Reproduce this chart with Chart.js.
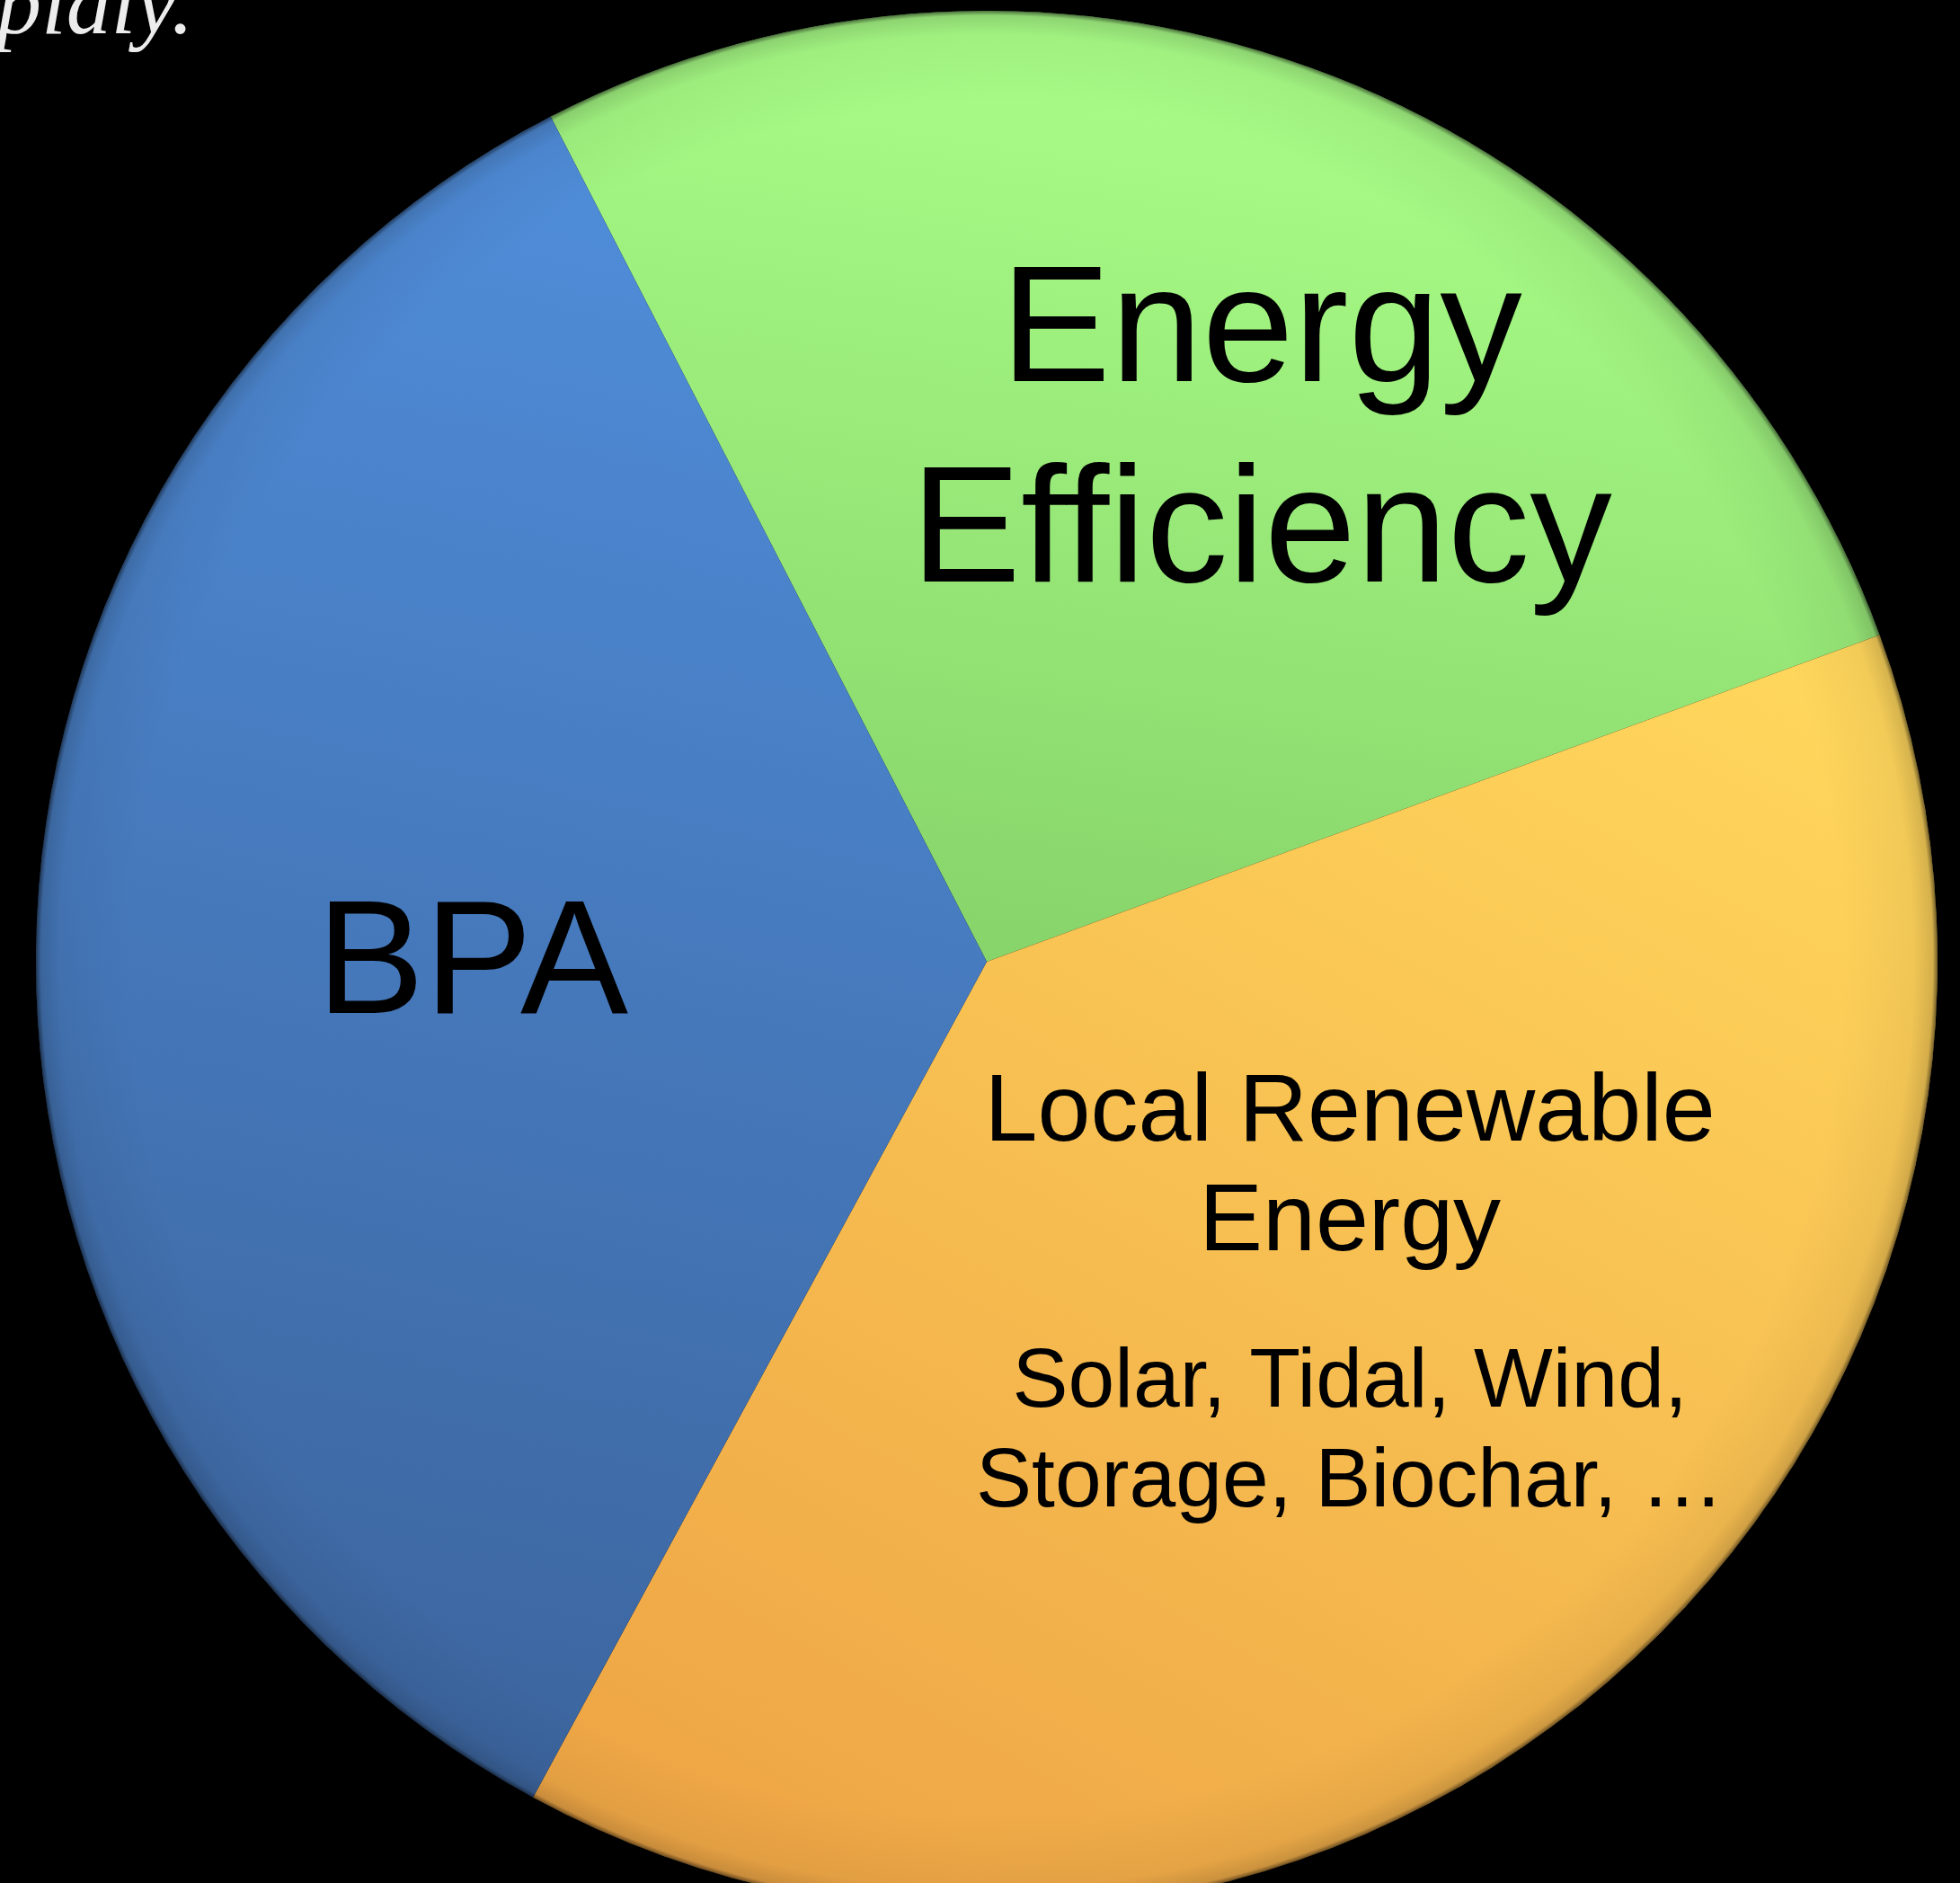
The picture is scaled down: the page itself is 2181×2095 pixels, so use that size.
<!DOCTYPE html>
<html>
<head>
<meta charset="utf-8">
<script src="https://cdn.jsdelivr.net/npm/chart.js@4.4.0/dist/chart.umd.min.js"></script>
<style>
html, body { margin:0; padding:0; background:#000; width:2181px; height:2095px; overflow:hidden; }
#caption { position:absolute; left:-4px; top:-46px; font:italic 100px/100px "Liberation Serif", serif; color:#ececec; white-space:nowrap; }
#wrap { position:absolute; left:40px; top:12px; width:2116px; height:2116px; }
</style>
</head>
<body>
<div id="caption">pidly.</div>
<div id="wrap"><canvas id="pie"></canvas></div>
<script>
// slices, clockwise from the green one
const sliceNames = ['Energy Efficiency', 'Local Renewable Energy', 'BPA'];
const sliceValues = [27, 38.5, 34.5];
const sliceLines = [
    ['Energy', 'Efficiency'],
    ['Local Renewable', 'Energy', 'Solar, Tidal, Wind,', 'Storage, Biochar, …'],
    ['BPA']
];

// label placement, in units of the pie radius from its centre
const labelLayout = [
    { dx: 0.289, base: [-0.611, -0.400], size: [183, 183] },
    { dx: 0.382, base: [0.188, 0.303, 0.468, 0.573], size: [106, 106, 93, 93] },
    { dx: -0.541, base: [0.054], size: [180] }
];

// gradient end points (relative to centre, in radius units) and colours
const sliceShade = [
    { from: [0.15, -1.0], to: [0.0, 0.0], c0: '#aaff88', c1: '#87d46a' },
    { from: [0.65, -0.4], to: [-0.1, 0.98], c0: '#ffd65c', c1: '#efa746' },
    { from: [-0.15, -0.75], to: [-0.5, 0.85], c0: '#4f8cd8', c1: '#3c659e' }
];

function pieGeom(chart) {
    const a = chart.chartArea;
    return {
        x: (a.left + a.right) / 2,
        y: (a.top + a.bottom) / 2,
        r: Math.min(a.right - a.left, a.bottom - a.top) / 2
    };
}

function shade(context) {
    const chart = context.chart;
    if (!chart.chartArea) return '#888';
    const g = pieGeom(chart);
    const s = sliceShade[context.dataIndex];
    const grad = chart.ctx.createLinearGradient(
        g.x + s.from[0] * g.r, g.y + s.from[1] * g.r,
        g.x + s.to[0] * g.r, g.y + s.to[1] * g.r);
    grad.addColorStop(0, s.c0);
    grad.addColorStop(1, s.c1);
    return grad;
}

// darker rim at the edge of the pie
const rimPlugin = {
    id: 'rim',
    afterDatasetsDraw(chart) {
        const arc = chart.getDatasetMeta(0).data[0];
        if (!arc) return;
        const { x, y, outerRadius } = arc.getProps(['x', 'y', 'outerRadius'], true);
        const ctx = chart.ctx;
        const grad = ctx.createRadialGradient(x, y, outerRadius * 0.9, x, y, outerRadius);
        grad.addColorStop(0, 'rgba(0,0,0,0)');
        grad.addColorStop(0.75, 'rgba(0,0,0,0.05)');
        grad.addColorStop(0.95, 'rgba(0,0,0,0.16)');
        grad.addColorStop(1, 'rgba(0,0,0,0.55)');
        ctx.save();
        ctx.beginPath();
        ctx.arc(x, y, outerRadius, 0, Math.PI * 2);
        ctx.fillStyle = grad;
        ctx.fill();
        ctx.restore();
    }
};

const labelPlugin = {
    id: 'sliceText',
    afterDraw(chart) {
        const meta = chart.getDatasetMeta(0);
        const ctx = chart.ctx;
        ctx.save();
        ctx.fillStyle = '#000';
        ctx.textAlign = 'center';
        ctx.textBaseline = 'alphabetic';
        meta.data.forEach((arc, i) => {
            const { x, y, outerRadius } = arc.getProps(['x', 'y', 'outerRadius'], true);
            const L = labelLayout[i];
            sliceLines[i].forEach((line, j) => {
                ctx.font = L.size[j] + 'px "Liberation Sans", Arial, sans-serif';
                ctx.fillText(line, x + L.dx * outerRadius, y + L.base[j] * outerRadius);
            });
        });
        ctx.restore();
    }
};

new Chart(document.getElementById('pie'), {
    type: 'pie',
    data: {
        labels: sliceNames,
        datasets: [{
            data: sliceValues,
            backgroundColor: shade,
            borderWidth: 0
        }]
    },
    options: {
        responsive: true,
        maintainAspectRatio: false,
        animation: false,
        rotation: -27.3,
        layout: { padding: 0 },
        plugins: {
            legend: { display: false },
            tooltip: { enabled: false }
        }
    },
    plugins: [rimPlugin, labelPlugin]
});
</script>
</body>
</html>
